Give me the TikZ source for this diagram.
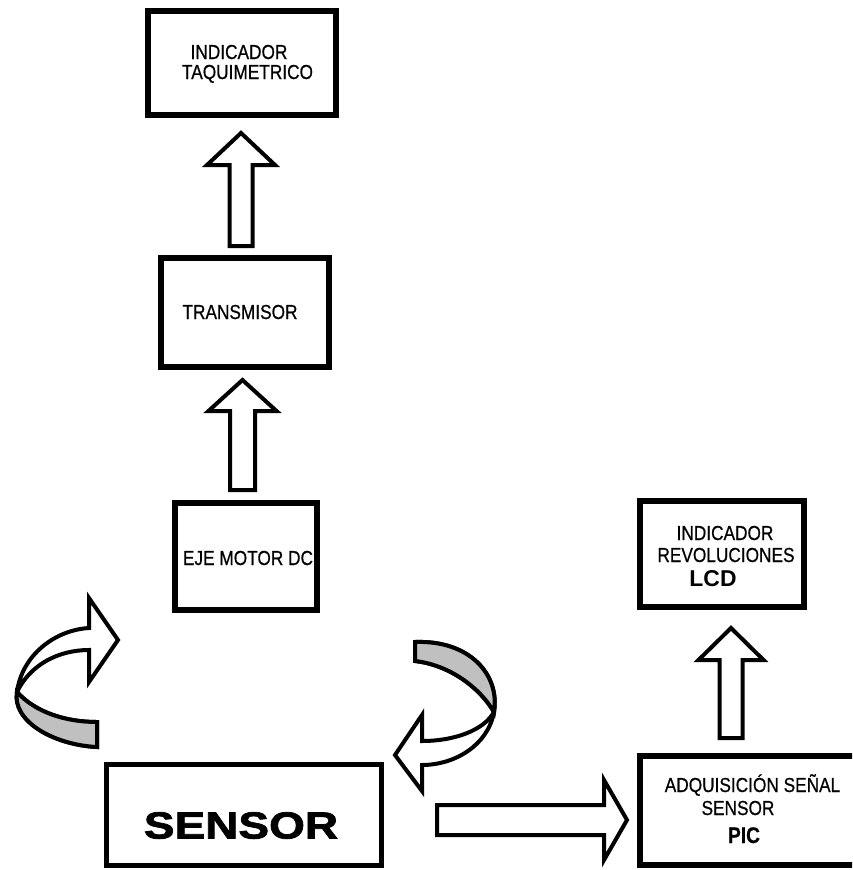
\documentclass[tikz,border=0pt]{standalone}
\usepackage{fontspec}
\setmainfont{Liberation Sans}
\newfontfamily\labelfont{Liberation Sans}[FakeStretch=0.85,FakeBold=0.6]
\newfontfamily\heavyfont{Liberation Sans Bold}[FakeStretch=1.22,FakeBold=2]
\usetikzlibrary{calc}
\definecolor{bandgray}{RGB}{192,192,192}

\tikzset{
  box/.style={draw, line width=6pt, inner sep=0pt},
  txt/.style={anchor=base, inner sep=0pt, font={\labelfont\fontsize{20.3}{22}\selectfont}},
  txtbold/.style={anchor=base, inner sep=0pt, font={\labelfont\bfseries\fontsize{22.6}{24}\selectfont}},
  blockarrow/.style={draw, line width=4pt, fill=white, line join=miter},
  curvearrow/.style={draw, line width=4pt, fill=white, line join=miter, miter limit=4},
}

% upward block arrow: tail, tip, shaft half width, head half width, head length
\newcommand\blockup[5]{%
  \draw[blockarrow] let \p1=(#1), \p2=(#2) in
    (\x1-#3pt,\y1) -- (\x1-#3pt,\y2-#5pt) -- (\x1-#4pt,\y2-#5pt) -- (\x1,\y2)
    -- (\x1+#4pt,\y2-#5pt) -- (\x1+#3pt,\y2-#5pt) -- (\x1+#3pt,\y1) -- cycle;}
% rightward block arrow: tail, tip, shaft half width, head half width, head length
\newcommand\blockright[5]{%
  \draw[blockarrow] let \p1=(#1), \p2=(#2) in
    (\x1,\y1+#3pt) -- (\x2-#5pt,\y1+#3pt) -- (\x2-#5pt,\y1+#4pt) -- (\x2,\y1)
    -- (\x2-#5pt,\y1-#4pt) -- (\x2-#5pt,\y1-#3pt) -- (\x1,\y1-#3pt) -- cycle;}

\begin{document}
\begin{tikzpicture}[x=1pt,y=-1pt]
\useasboundingbox (0,0) rectangle (852,870);
\clip (0,0) rectangle (852,870);

% blocks
\node[box, minimum width=188pt, minimum height=104pt] (taq) at (242,63) {};
\node[box, minimum width=168pt, minimum height=109pt] (tx) at (245,312.5) {};
\node[box, minimum width=142pt, minimum height=107pt] (motor) at (246,556.5) {};
\node[box, minimum width=164pt, minimum height=106pt] (lcd) at (722,554) {};
\node[box, minimum width=227pt, minimum height=109pt] (pic) at (753.5,810.5) {};
\node[box, line width=5pt, minimum width=275pt, minimum height=101pt] (sensor) at (244,815) {};

% block texts
\node[txt] (taq1) at (239,59) {INDICADOR};
\node[txt] (taq2) at (247.5,79) {TAQUIMETRICO};
\node[txt] (txl) at (240,319) {TRANSMISOR};
\node[txt] (motorl) at (248,565) {EJE MOTOR DC};
\node[txt] (lcd1) at (725,540) {INDICADOR};
\node[txt] (lcd2) at (726,562) {REVOLUCIONES};
\node[anchor=base, inner sep=0pt, font={\bfseries\fontsize{22.9}{24}\selectfont}] (lcd3) at (713,586) {LCD};
\node[txt] (pic1) at (752.5,792) {ADQUISICIÓN SEÑAL};
\node[txt] (pic2) at (738,815) {SENSOR};
\node[txtbold] (pic3) at (744,843) {PIC};
\node[anchor=base, inner sep=0pt, font={\heavyfont\fontsize{37.7}{40}\selectfont}] (sensorl) at (241,838.5) {SENSOR};

% block arrow ends
\coordinate (a1tail) at (241,246);
\coordinate (a1tip) at (241,133);
\coordinate (a2tail) at (242.5,490);
\coordinate (a2tip) at (242.5,380);
\coordinate (a3tail) at (731,738);
\coordinate (a3tip) at (731,628);
\coordinate (a4tail) at (437,820);
\coordinate (a4tip) at (627,820);

\blockup{a1tail}{a1tip}{11.5}{34}{32}
\blockup{a2tail}{a2tip}{12.5}{34}{31}
\blockup{a3tail}{a3tip}{11.5}{32.5}{32}
\blockright{a4tail}{a4tip}{15}{40}{23}

% left twisted arrow
\path[curvearrow]
  (97,747) .. controls (55,745) and (12,722) .. (17,692)
  .. controls (22,655) and (55,630) .. (89,628)
  -- (89,598) -- (118,640) -- (89,682) -- (89,650)
  .. controls (58,650) and (30,665) .. (17,692)
  .. controls (35,712) and (65,722) .. (97,722) -- cycle;
\fill[bandgray]
  (97,747) .. controls (55,745) and (12,722) .. (17,692)
  .. controls (35,712) and (65,722) .. (97,722) -- cycle;
\draw[line width=4pt, line join=miter]
  (97,747) .. controls (55,745) and (12,722) .. (17,692)
  .. controls (35,712) and (65,722) .. (97,722) -- cycle;

% right twisted arrow
\path[curvearrow]
  (415,642) .. controls (470,640) and (500,675) .. (494,712)
  .. controls (488,745) and (455,765) .. (422,765)
  -- (422,791) -- (395,755) -- (422,715) -- (422,741)
  .. controls (455,741) and (484,730) .. (494,712)
  .. controls (480,688) and (450,665) .. (415,661) -- cycle;
\fill[bandgray]
  (415,642) .. controls (470,640) and (500,675) .. (494,712)
  .. controls (480,688) and (450,665) .. (415,661) -- cycle;
\draw[line width=4pt, line join=miter]
  (415,642) .. controls (470,640) and (500,675) .. (494,712)
  .. controls (480,688) and (450,665) .. (415,661) -- cycle;
\end{tikzpicture}
\end{document}
